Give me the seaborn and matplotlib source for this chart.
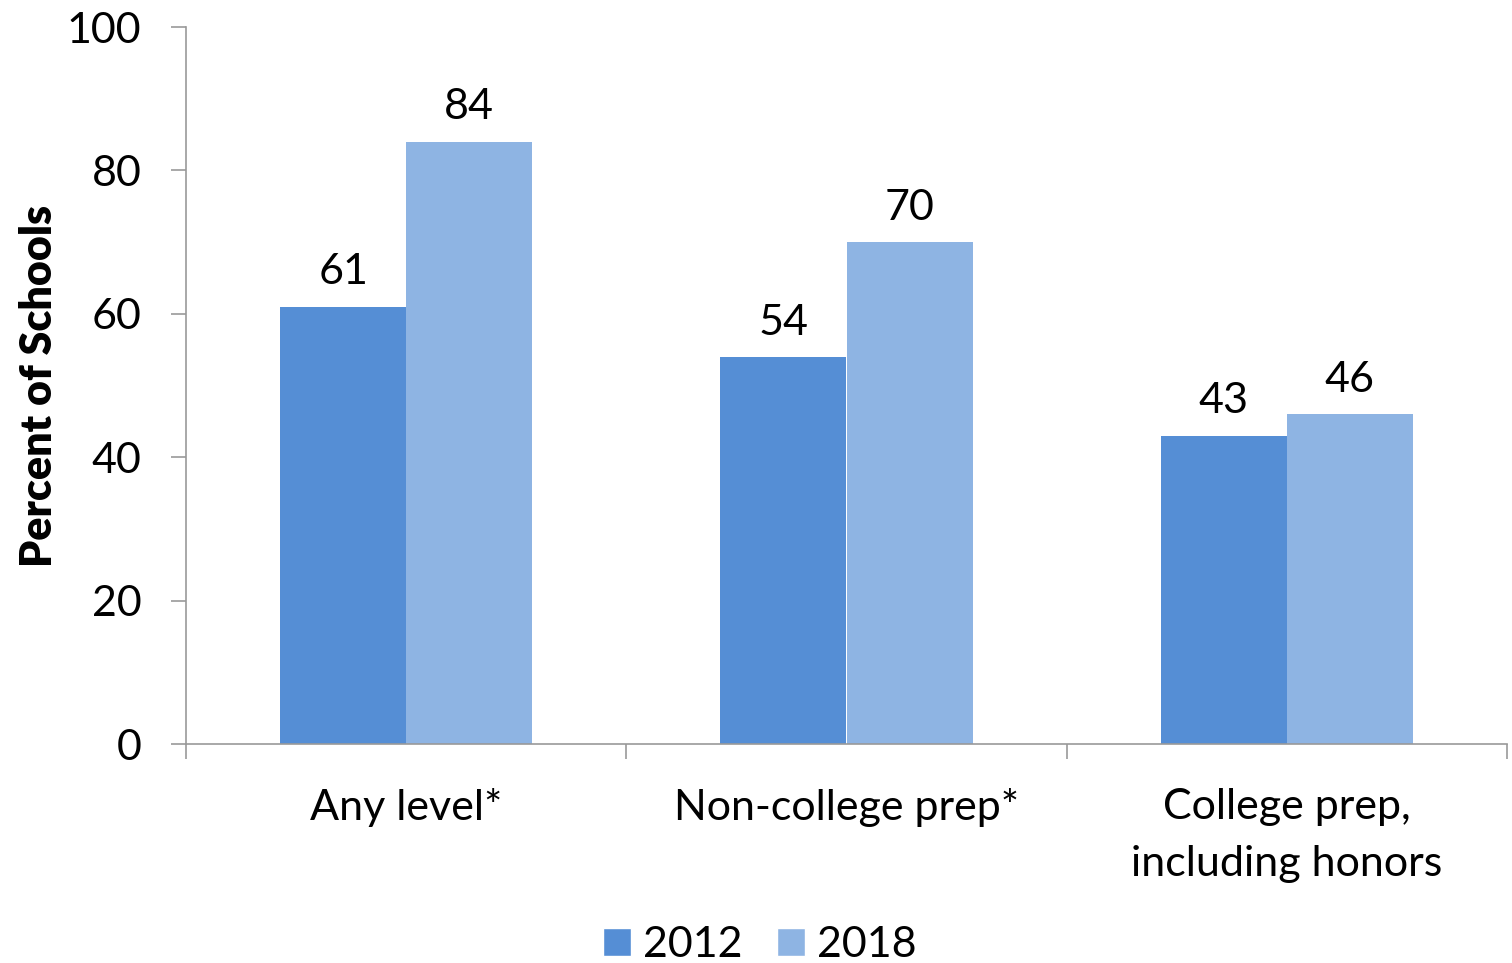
import matplotlib
matplotlib.use("Agg")
import matplotlib.pyplot as plt
import seaborn as sns
import pandas as pd
from matplotlib.patches import Patch

categories = ["Any level*", "Non-college prep*", "College prep,\nincluding honors"]
years = ["2012", "2018"]
values_2012 = [61, 54, 43]
values_2018 = [84, 70, 46]
colors = ["#558ED5", "#8EB4E3"]

df = pd.DataFrame({
    "category": categories * 2,
    "year": [years[0]] * 3 + [years[1]] * 3,
    "value": values_2012 + values_2018,
})

sns.set_theme(style="white")
plt.rcParams['font.family'] = ['Lato', 'DejaVu Sans']

FS = 31
AXC = "#999999"

fig = plt.figure(figsize=(15.12, 9.63), dpi=100)
ax = fig.add_axes([186/1512, 1-744/963, (1507-186)/1512, (744-27)/963])

sns.barplot(data=df, x="category", y="value", hue="year", palette=colors,
            width=0.573, ax=ax, legend=False, saturation=1, linewidth=0)

for c in ax.containers:
    ax.bar_label(c, fmt="%d", padding=11, fontsize=FS, color="black")

ax.set_xlim(-0.5, 2.5)
ax.set_ylim(0, 100)
ax.set_yticks([0, 20, 40, 60, 80, 100])
ax.tick_params(axis="y", labelsize=FS, length=11, width=1.2, color=AXC,
               direction="out", left=True, pad=21, labelcolor="black")
ax.set_xticks([-0.5, 0.5, 1.5, 2.5])
ax.set_xticklabels([])
ax.tick_params(axis="x", which="major", length=11, width=1.2, color=AXC,
               direction="out", bottom=True)
ax.set_xticks([0, 1, 2], minor=True)
ax.set_xticklabels(categories, minor=True, fontsize=FS, linespacing=1.6,
                   color="black")
ax.tick_params(axis="x", which="minor", length=0, pad=32)

ax.set_xlabel("")
ax.set_ylabel("Percent of Schools", fontsize=FS, fontweight="heavy",
              labelpad=6, color="black")

for s in ["top", "right"]:
    ax.spines[s].set_visible(False)
for s in ["left", "bottom"]:
    ax.spines[s].set_color(AXC)
    ax.spines[s].set_linewidth(1.2)

handles = [Patch(facecolor=colors[0], label=years[0]),
           Patch(facecolor=colors[1], label=years[1])]
fig.legend(handles=handles, loc="center", bbox_to_anchor=(760/1512, 1-945/963),
           ncol=2, frameon=False, fontsize=FS, handlelength=0.65, handleheight=0.65,
           handletextpad=0.28, columnspacing=0.8, labelcolor="black")

fig.savefig("out.png", dpi=100)
